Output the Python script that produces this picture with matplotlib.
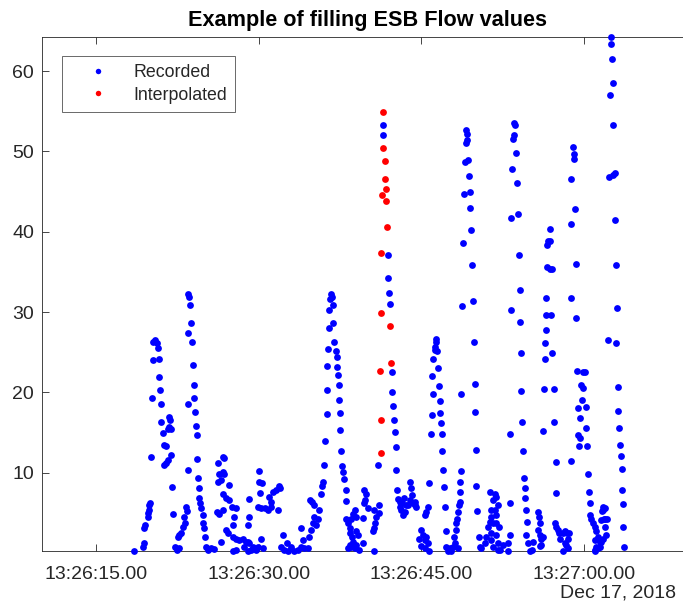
import datetime as dt
import matplotlib
matplotlib.use("Agg")
import matplotlib.pyplot as plt
import matplotlib.dates as mdates
from matplotlib.ticker import FuncFormatter, FixedLocator

plt.rcParams['font.family'] = ['Liberation Sans', 'DejaVu Sans']

# ---- data: seconds after 13:26:00 on 2018-12-17, and flow value ----
rec_t = [
    18.53, 19.32, 19.41, 19.46, 19.55, 19.76, 19.83, 19.85, 19.92, 19.98, 20.07, 20.13, 20.22, 20.29,
    20.47, 20.59, 20.68, 20.77, 20.84, 20.90, 20.99, 20.99, 21.14, 21.30, 21.46, 21.60, 21.76, 21.83,
    21.76, 21.92, 21.60, 21.46, 21.30, 21.92, 22.01, 22.13, 22.32, 22.44, 22.68,
    22.53, 22.68, 22.84, 22.99, 23.15, 23.24, 23.30, 23.36, 23.45, 23.45, 23.45, 23.45, 23.54, 23.67,
    23.76, 23.85, 23.91, 24.00, 24.00, 24.13, 24.22, 24.28, 24.32, 24.41, 24.47, 24.53, 24.59, 24.69,
    24.83, 24.90, 24.99, 25.08, 25.15, 25.30, 25.61, 25.91,
    26.22, 26.68, 26.84, 26.31, 26.68, 26.84, 26.53, 26.22, 27.30, 26.68, 26.99, 27.30, 26.72, 26.13,
    26.37, 27.55, 27.92, 27.76, 27.61, 26.99, 27.14, 26.53, 27.61, 27.92, 28.22, 28.53, 28.84, 28.68,
    28.99, 29.45, 29.76, 27.61, 27.92, 29.09, 29.00, 29.09, 29.03, 29.15, 29.30, 29.61, 29.92, 30.23,
    30.38, 30.07, 30.01, 30.13, 30.31, 29.92, 30.23, 30.54, 30.84, 31.15, 31.76, 30.99, 31.30, 31.61,
    31.85, 31.98, 31.15, 32.22, 32.07, 32.37, 32.58, 32.68, 32.99, 33.29, 33.60, 33.91, 34.06, 33.91,
    34.22, 34.52, 34.68, 34.83, 34.99, 35.14, 35.29, 35.45, 35.60, 34.75, 34.94, 35.06,
    35.76, 35.85, 35.91, 36.06, 36.15, 36.27, 36.27, 36.27, 36.37, 36.46, 36.52, 36.58, 36.68, 36.77,
    36.83, 36.89, 36.98, 37.08, 37.20, 37.20, 37.29, 37.38, 37.44, 37.51, 37.51, 37.60, 37.69, 37.81,
    37.90, 38.00, 38.06,
    38.06, 38.21, 38.37, 38.52, 38.67, 38.83, 38.98, 38.37, 38.61, 38.67, 38.98, 38.37, 38.21, 38.52,
    38.83, 39.29, 39.60, 39.14, 38.93, 39.75, 39.91, 39.81, 39.66, 40.06, 39.60, 40.67, 40.82, 40.76,
    40.67, 40.52, 40.59, 41.00, 41.13, 41.13,
    41.50, 41.50, 41.90, 41.90, 41.99, 42.06, 42.24, 42.31, 42.36, 42.45, 42.52, 42.61, 42.68, 42.73,
    42.82, 43.04, 43.23, 43.35, 43.53, 43.14, 43.44, 43.75, 43.90, 44.06, 43.97, 44.15, 44.21, 44.36,
    44.45, 44.52, 43.29, 42.98,
    44.98, 45.13, 44.82, 45.29, 45.44, 45.59, 45.68, 45.29, 44.98, 45.29, 45.44, 45.59, 45.74, 45.90,
    45.96, 46.05, 46.00, 46.05, 46.21, 46.27, 46.36, 46.30, 46.42, 46.51, 46.61, 46.67, 46.73, 46.83,
    46.88, 46.92, 46.97, 47.07, 47.16, 47.22, 47.29, 47.44, 47.59, 47.75, 47.90, 48.05, 47.97, 48.15,
    48.21, 48.28, 48.38, 48.47, 48.51, 48.51, 48.57, 48.61, 48.38, 48.67,
    48.76, 48.82, 48.88, 48.98, 49.07, 49.13, 49.19, 49.19, 49.28, 49.37, 49.43, 49.50, 49.59, 49.69,
    49.74, 49.83, 49.90, 49.96, 49.99, 50.05, 50.15, 50.29, 50.36, 50.51, 50.82, 50.98, 51.13, 51.28,
    51.44, 51.59, 51.74, 51.59, 51.74, 51.90, 52.05, 51.90, 51.84, 52.05, 52.20, 51.28, 51.44, 51.90,
    52.14, 51.44, 51.44, 51.59, 52.05, 52.51, 52.97, 52.97, 53.12, 53.18, 53.18,
    53.28, 53.28, 53.37, 53.40, 53.50, 53.50, 53.59, 53.68, 53.80, 53.89, 53.96, 54.05, 54.11, 54.21,
    54.21, 54.30, 54.35, 54.45, 54.51, 54.51, 54.60, 54.72, 54.67, 54.82, 54.97, 55.22, 55.28, 55.74,
    55.83, 55.89, 55.74, 55.89, 56.05, 56.20, 56.05, 55.89,
    56.20, 56.26, 56.36, 56.36, 56.45, 56.45, 56.51, 56.57, 56.54, 56.66, 56.81, 56.81, 56.81, 57.00,
    56.97, 57.06, 57.19, 57.19, 57.37, 57.44, 57.28, 57.44, 57.59, 57.68, 57.81, 58.00, 58.21, 58.43,
    58.61, 58.52, 58.21, 58.05, 58.52, 58.36, 58.81,
    58.82, 58.82, 58.82, 58.97, 59.04, 59.04, 59.13, 59.22, 59.28, 59.33, 60.05, 59.89, 59.74, 59.89,
    59.83, 59.43, 60.14, 59.65, 60.20, 59.43, 59.58, 59.52, 60.26, 60.36, 60.45, 60.50, 60.50, 60.66,
    60.81, 60.97, 61.12, 61.27, 60.97, 60.97, 61.12, 61.43, 61.58, 61.74, 61.89, 61.89, 62.05, 61.89,
    61.74, 61.68, 61.80, 62.10, 61.74, 61.58, 61.43, 61.27, 60.97,
    62.24, 62.39, 62.45, 62.45, 62.52, 62.61, 62.67, 62.61, 62.82, 62.82, 62.91, 62.98, 62.20, 62.91,
    63.07, 63.13, 63.22, 63.31, 63.37, 63.46, 63.52, 63.58, 63.61, 63.67,
]
rec_v = [
    0.3, 0.8, 1.2, 3.1, 3.5, 4.5, 5.0, 5.4, 6.0, 6.2, 12.0, 19.3, 24.0, 26.3,
    26.5, 26.1, 25.5, 24.2, 21.9, 20.3, 18.5, 16.3, 14.9, 13.4, 13.3, 15.4, 17.0, 16.6,
    15.7, 15.5, 11.6, 11.2, 11.0, 12.2, 8.2, 4.9, 0.8, 0.4, 0.6,
    2.0, 2.2, 2.5, 3.3, 4.5, 3.7, 5.8, 5.3, 10.3, 18.6, 27.4, 32.3, 31.9, 30.9,
    28.6, 26.3, 23.4, 20.9, 19.3, 17.6, 15.8, 14.7, 11.7, 9.3, 8.1, 6.8, 6.2, 5.6,
    4.7, 3.7, 3.1, 2.0, 0.8, 0.4, 0.6, 0.5,
    11.2, 12.0, 11.8, 9.9, 10.1, 9.8, 9.1, 8.9, 8.5, 7.3, 6.8, 6.6, 5.4, 5.1,
    4.9, 5.8, 5.6, 4.5, 3.5, 2.9, 2.5, 1.4, 2.0, 1.8, 1.6, 1.8, 1.4, 0.8,
    0.3, 0.8, 0.4, 0.3, 0.4, 6.7, 3.5, 4.5, 1.4, 1.2, 0.4, 0.6, 0.8, 1.8,
    0.6, 10.2, 8.9, 7.5, 8.7, 5.8, 5.6, 5.6, 5.4, 5.7, 5.4, 7.0, 7.6, 7.8,
    8.3, 8.1, 6.4, 2.2, 0.8, 0.4, 1.2, 0.3, 0.8, 0.3, 0.4, 0.8, 1.6, 3.1,
    0.6, 0.6, 2.0, 2.9, 3.7, 4.5, 3.5, 4.3, 5.4, 6.6, 6.4, 6.0,
    7.4, 8.3, 8.8, 11.0, 13.9, 17.3, 20.3, 23.3, 25.4, 28.0, 30.2, 31.6, 32.2, 31.9,
    30.9, 28.6, 26.3, 25.1, 24.4, 23.2, 22.2, 20.9, 19.1, 17.4, 15.3, 12.7, 10.8, 10.1,
    9.2, 7.8, 6.5,
    4.3, 3.7, 3.1, 4.3, 4.9, 5.4, 4.5, 2.5, 2.0, 1.4, 1.0, 1.0, 0.6, 0.8,
    0.6, 0.4, 1.2, 2.2, 2.7, 7.8, 7.4, 6.6, 6.2, 5.6, 4.4, 5.4, 4.5, 3.7,
    3.1, 2.7, 0.3, 11.0, 6.0, 5.0,
    53.3, 52.1, 37.1, 34.3, 32.4, 31.0, 22.6, 20.0, 18.3, 16.6, 15.1, 13.2, 10.3, 7.9,
    6.7, 6.4, 6.2, 6.8, 6.0, 5.4, 5.1, 6.0, 6.6, 8.1, 8.9, 7.2, 6.2, 6.0,
    6.4, 5.8, 4.7, 5.8,
    2.9, 2.2, 1.8, 1.6, 2.0, 1.2, 0.3, 0.6, 0.9, 4.7, 5.1, 5.8, 8.7, 14.8,
    17.2, 19.8, 22.0, 24.1, 25.3, 25.7, 26.7, 26.3, 25.1, 23.1, 20.8, 18.9, 17.4, 16.2,
    14.8, 12.7, 10.3, 8.2, 5.8, 2.7, 0.8, 0.3, 0.6, 0.3, 0.8, 1.2, 2.0, 2.9,
    3.7, 4.3, 5.1, 6.0, 6.4, 7.6, 8.9, 10.2, 0.6, 19.8,
    30.8, 38.6, 44.7, 48.7, 51.0, 52.7, 52.2, 51.4, 48.9, 46.9, 45.0, 42.9, 40.2, 35.8,
    31.4, 26.3, 21.1, 17.6, 12.8, 8.3, 5.2, 2.0, 0.8, 0.6, 1.2, 2.0, 3.3, 3.9,
    4.5, 3.7, 5.4, 6.6, 7.4, 7.0, 6.0, 4.7, 2.2, 1.2, 0.4, 7.6, 5.4, 3.7,
    3.3, 2.5, 1.6, 0.8, 0.4, 1.0, 1.2, 0.3, 2.2, 6.2, 14.8,
    30.3, 41.7, 47.8, 51.5, 52.0, 53.5, 53.3, 49.8, 46.1, 42.2, 37.1, 32.7, 28.8, 24.9,
    20.2, 16.3, 12.7, 9.3, 8.1, 6.9, 5.4, 3.9, 2.2, 1.2, 0.3, 0.4, 1.4, 5.1,
    4.5, 3.7, 2.9, 2.2, 1.8, 2.0, 1.0, 0.9,
    15.2, 20.4, 24.1, 26.2, 27.8, 29.6, 31.8, 35.6, 38.3, 38.8, 38.9, 40.4, 35.4, 35.3,
    29.6, 24.9, 20.4, 16.3, 11.4, 7.5, 3.8, 3.3, 2.9, 2.5, 1.8, 2.5, 2.7, 2.5,
    2.5, 1.8, 1.2, 0.3, 0.6, 1.0, 11.5,
    31.8, 41.0, 46.6, 50.5, 49.7, 49.1, 42.8, 36.0, 29.3, 22.7, 22.6, 22.5, 20.9, 20.5,
    19.1, 18.0, 18.2, 16.8, 15.6, 14.7, 14.3, 13.3, 13.3, 9.9, 7.6, 6.2, 4.7, 4.3,
    3.7, 3.3, 2.7, 2.0, 1.6, 0.3, 0.8, 1.4, 4.1, 5.4, 5.6, 3.3, 2.2, 4.3,
    5.8, 5.2, 4.2, 4.2, 1.8, 1.4, 0.8, 0.6, 0.4,
    46.8, 57.0, 64.2, 63.4, 61.5, 58.5, 53.3, 47.1, 47.3, 41.5, 35.9, 30.5, 26.5, 26.1,
    20.7, 17.7, 15.6, 13.4, 12.1, 10.5, 7.8, 6.1, 3.2, 0.7,
]
int_t = [41.23, 41.23, 41.20, 41.23, 41.29, 41.38, 41.44, 41.50,
         41.60, 41.66, 41.69, 41.69, 41.81, 42.06, 42.15]
int_v = [12.4, 16.6, 22.7, 29.9, 37.4, 44.6, 50.4, 54.9,
         48.8, 46.6, 45.3, 43.8, 40.6, 28.3, 23.6]

base = dt.datetime(2018, 12, 17, 13, 26, 0)
x_lim_s = [10, 70]
x_tick_s = [15, 30, 45, 60]
y_ticks = [10, 20, 30, 40, 50, 60]

def to_dt(secs):
    return [base + dt.timedelta(seconds=s) for s in secs]

W, H = 683, 610
fig = plt.figure(figsize=(W / 100, H / 100), dpi=100)
ax = fig.add_axes([41.7 / W, 59.3 / H, 651 / W, 513.4 / H])

dark = '#262626'
ax.plot(to_dt(rec_t), rec_v, linestyle='none', marker='o', ms=4.9, mew=0,
        color='#0000ff', clip_on=False, label='Recorded', zorder=3)
ax.plot(to_dt(int_t), int_v, linestyle='none', marker='o', ms=4.9, mew=0,
        color='#ff0000', clip_on=False, label='Interpolated', zorder=4)

ax.set_xlim(to_dt(x_lim_s))
ax.set_ylim(min(rec_v + int_v), max(rec_v + int_v))

ax.xaxis.set_major_locator(FixedLocator(mdates.date2num(to_dt(x_tick_s))))
def fmt(x, pos):
    d = mdates.num2date(x)
    return d.strftime('%H:%M:%S') + '.%02d' % (d.microsecond // 10000)
ax.xaxis.set_major_formatter(FuncFormatter(fmt))
ax.set_yticks(y_ticks)

for s in ax.spines.values():
    s.set_linewidth(0.6)
    s.set_color(dark)
ax.spines['right'].set_visible(False)
ax.tick_params(direction='in', length=4.7, width=0.6, colors=dark,
               labelsize=14, top=True, right=False)
ax.tick_params(axis='x', pad=11)
ax.tick_params(axis='y', pad=5.5)

ax.set_title('Example of filling ESB Flow values', fontsize=15.6,
             fontweight='bold', color='black', pad=8)

leg = fig.legend(loc='upper left', bbox_to_anchor=(62 / W, 1 - 56 / H),
                 fontsize=12.8, frameon=True, fancybox=False, borderpad=0.45,
                 labelspacing=0.32, handlelength=3.1, handletextpad=0.47,
                 borderaxespad=0, markerscale=0.8)
leg.get_frame().set_edgecolor(dark)
leg.get_frame().set_linewidth(0.6)
for t in leg.get_texts():
    t.set_color(dark)

fig.text(676 / W, 1 - 593 / H, 'Dec 17, 2018', ha='right', va='center',
         fontsize=14, color=dark)

fig.savefig('out.png', dpi=100)
